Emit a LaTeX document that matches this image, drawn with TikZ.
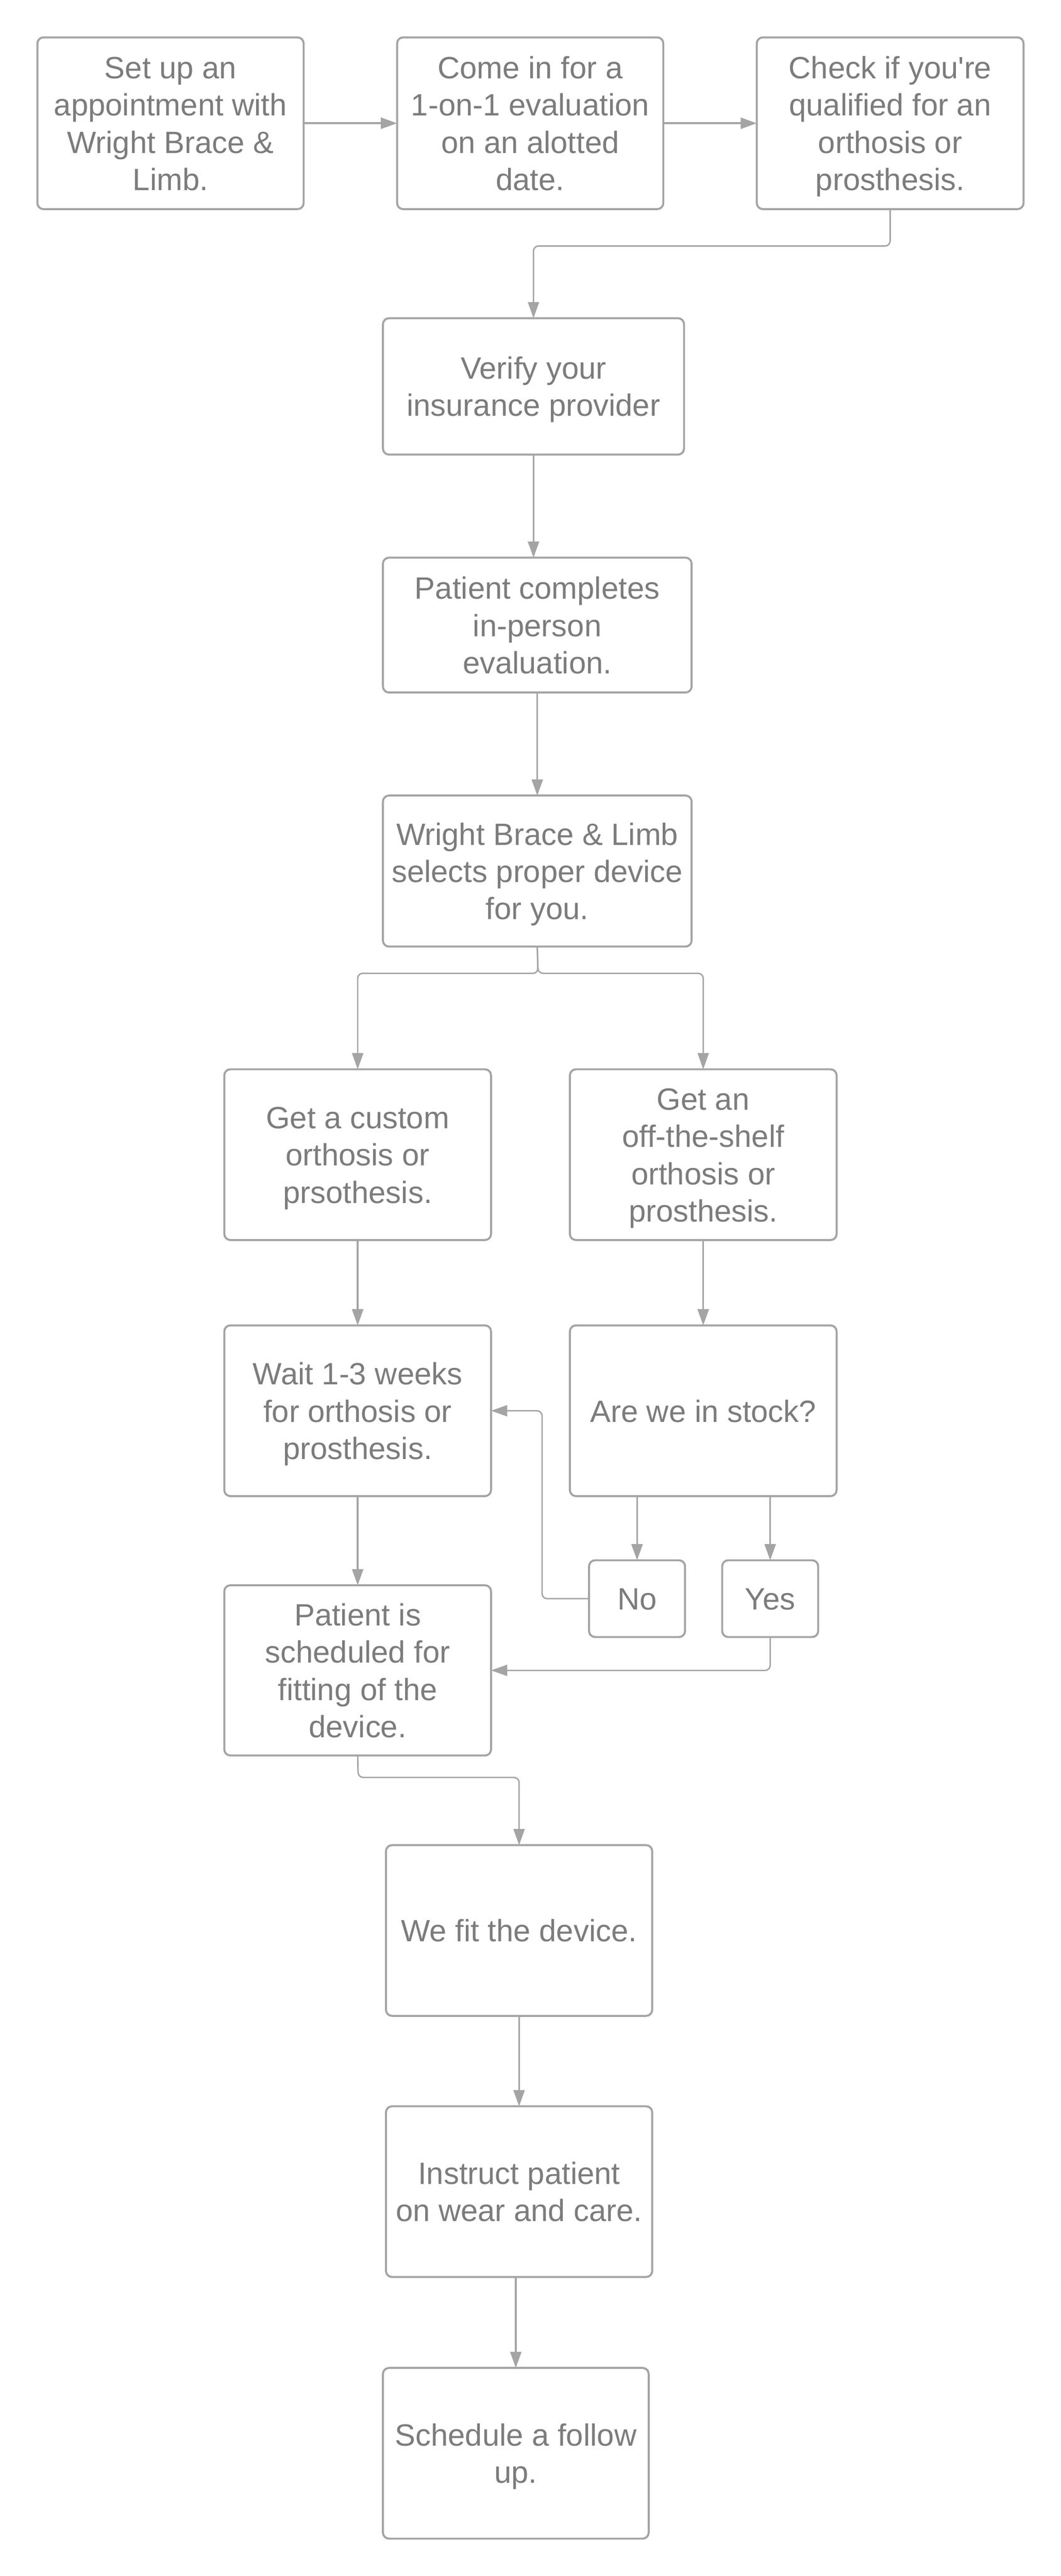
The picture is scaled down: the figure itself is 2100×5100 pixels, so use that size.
\documentclass[tikz,border=0pt]{standalone}
\usepackage{fontspec}
\setmainfont{Liberation Sans}
\usetikzlibrary{arrows.meta}
\definecolor{bordergray}{HTML}{A4A4A4}
\definecolor{textgray}{HTML}{7C7C7C}
\newcommand{\ls}{\rule[-3.65pt]{0pt}{18.4pt}}
\tikzset{
  box/.style={draw=bordergray, line width=1pt, rounded corners=3pt, align=center,
    text=textgray, inner sep=0pt, outer sep=0pt,
    font=\fontsize{15.25}{18.4}\selectfont},
  conn/.style={draw=bordergray, line width=0.9pt, -{Triangle[length=8pt,width=5.5pt]}},
  elbow/.style={draw=bordergray, line width=0.7pt, rounded corners=2.5pt, -{Triangle[length=8pt,width=5.5pt]}}
}
\begin{document}
\begin{tikzpicture}[x=0.25pt,y=-0.25pt]
\useasboundingbox (0,0) rectangle (2100,5100);
% row 1
\node[box, minimum width=131.75pt, minimum height=85pt] (b1) at (337.5,244) {\ls Set up an\\\ls appointment with\\\ls Wright Brace \&\\\ls Limb.};
\node[box, minimum width=131.75pt, minimum height=85pt] (b2) at (1049.5,244) {\ls Come in for a\\\ls 1-on-1 evaluation\\\ls on an alotted\\\ls date.};
\node[box, minimum width=132pt, minimum height=85pt] (b3) at (1762,244) {\ls Check if you\textquotesingle re\\\ls qualified for an\\\ls orthosis or\\\ls prosthesis.};
% centre column
\node[box, minimum width=149pt, minimum height=67.5pt] (verify) at (1056,765) {\ls Verify your\\\ls insurance provider};
\node[box, minimum width=152.75pt, minimum height=66.75pt] (complete) at (1063.5,1237.5) {\ls Patient completes\\\ls in-person\\\ls evaluation.};
\node[box, minimum width=152.75pt, minimum height=74.75pt] (select) at (1063.5,1724.5) {\ls Wright Brace \& Limb\\\ls selects proper device\\\ls for you.};
% two branches
\node[box, minimum width=132pt, minimum height=84.5pt] (custom) at (708,2286) {\ls Get a custom\\\ls orthosis or\\\ls prsothesis.};
\node[box, minimum width=132pt, minimum height=84.5pt] (shelf) at (1392,2286) {\ls Get an\\\ls off-the-shelf\\\ls orthosis or\\\ls prosthesis.};
\node[box, minimum width=132pt, minimum height=84.5pt] (wait) at (708,2793) {\ls Wait 1-3 weeks\\\ls for orthosis or\\\ls prosthesis.};
\node[box, minimum width=132pt, minimum height=84.5pt] (stock) at (1392,2793) {\ls Are we in stock?};
\node[box, minimum width=47.5pt, minimum height=38pt] (no) at (1261,3165) {\ls No};
\node[box, minimum width=47.5pt, minimum height=38pt] (yes) at (1524.5,3165) {\ls Yes};
\node[box, minimum width=132pt, minimum height=84.25pt] (sched) at (708,3307) {\ls Patient is\\\ls scheduled for\\\ls fitting of the\\\ls device.};
% bottom column
\node[box, minimum width=131.75pt, minimum height=84.5pt] (fit) at (1027.5,3822) {\ls We fit the device.};
\node[box, minimum width=131.75pt, minimum height=84.5pt] (instr) at (1027.5,4339) {\ls Instruct patient\\\ls on wear and care.};
\node[box, minimum width=131.5pt, minimum height=84.5pt] (follow) at (1021,4857) {\ls Schedule a follow\\\ls up.};
% helper coordinates
\coordinate (c1) at (1762,487);
\coordinate (c2) at (1065,1927);
\coordinate (c3) at (1073,3165);
\coordinate (c4) at (709,3519);
% connectors
\draw[conn] (b1.east) -- (b2.west);
\draw[conn] (b2.east) -- (b3.west);
\draw[elbow] (b3.south) -- (c1) -- (c1 -| verify.north) -- (verify.north);
\draw[conn] (verify.south) -- (verify.south |- complete.north);
\draw[conn] (complete.south) -- (select.north);
\draw[elbow] (select.south) -- (c2) -- (c2 -| custom.north) -- (custom.north);
\draw[elbow] (select.south) -- (c2) -- (c2 -| shelf.north) -- (shelf.north);
\draw[conn] (custom.south) -- (wait.north);
\draw[conn] (shelf.south) -- (stock.north);
\draw[conn] (no.north |- stock.south) -- (no.north);
\draw[conn] (yes.north |- stock.south) -- (yes.north);
\draw[conn] (wait.south) -- (sched.north);
\draw[elbow] (no.west) -- (c3) -- (c3 |- wait.east) -- (wait.east);
\draw[elbow] (yes.south) -- (yes.south |- sched.east) -- (sched.east);
\draw[elbow] (sched.south) -- (c4) -- (c4 -| fit.north) -- (fit.north);
\draw[conn] (fit.south) -- (instr.north);
\draw[conn] (follow.north |- instr.south) -- (follow.north);
\end{tikzpicture}
\end{document}
